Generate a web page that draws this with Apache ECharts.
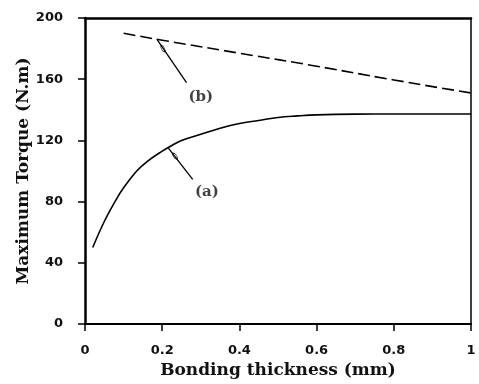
<!DOCTYPE html>
<html><head><meta charset="utf-8">
<script src="https://cdn.jsdelivr.net/npm/echarts@6/dist/echarts.min.js"></script>
<style>html,body{margin:0;padding:0;background:#fff}#c{width:479px;height:384px}</style>
</head><body><div id="c"></div>
<script>
// Data
const xAxisTitle = 'Bonding thickness (mm)';
const yAxisTitle = 'Maximum Torque (N.m)';
const curveAx = [0.02, 0.05, 0.08, 0.10, 0.134, 0.16, 0.20, 0.22, 0.25, 0.30, 0.35, 0.40, 0.45, 0.50, 0.55, 0.60, 0.70, 0.80, 0.90, 1.00];
const curveAy = [50, 67, 81, 89, 100, 106, 113, 116, 120, 124, 128, 131, 133, 135, 136, 136.7, 137.2, 137.3, 137.3, 137.3];
const curveBx = [0.10, 0.20, 0.40, 0.60, 0.80, 1.00];
const curveBy = [190, 185.5, 177, 168.5, 159.5, 151];
const labelA = ['(a)', 0.316, 86];
const labelB = ['(b)', 0.30, 148];
const leaderA = [[0.279, 94.5], [0.216, 115]];
const leaderB = [[0.263, 157.7], [0.186, 186.2]];
const leaderMarks = [[0.233, 109.8, 38], [0.202, 180, 28]];

const zip = (xs, ys) => xs.map((x, i) => [x, ys[i]]);
const lab = "'DejaVu Serif', serif";
const chart = echarts.init(document.getElementById('c'), null, {renderer: 'canvas'});
chart.setOption({
  backgroundColor: '#fff',
  animation: false,
  grid: {left: 85, right: 8, top: 18, bottom: 57},
  xAxis: [{
    type: 'value', min: 0, max: 1, interval: 0.2,
    name: xAxisTitle, nameLocation: 'middle', nameGap: 38, nameMoveOverlap: false,
    nameTextStyle: {fontFamily: lab, fontWeight: 'bold', fontSize: 17, color: '#111'},
    axisLine: {show: true, onZero: false, lineStyle: {color: '#000', width: 2}},
    axisTick: {show: true, inside: false, length: 7, lineStyle: {color: '#000', width: 1.5}},
    axisLabel: {margin: 20, fontFamily: 'DejaVu Sans', fontWeight: 'bold', fontSize: 13, color: '#111'},
    splitLine: {show: false}
  }, {
    type: 'value', position: 'top', min: 0, max: 1,
    axisLine: {show: true, onZero: false, lineStyle: {color: '#000', width: 2.5}},
    axisTick: {show: false}, axisLabel: {show: false}, splitLine: {show: false}
  }],
  yAxis: [{
    type: 'value', min: 0, max: 200, interval: 40,
    name: yAxisTitle, nameLocation: 'middle', nameGap: 53, nameRotate: 90, nameMoveOverlap: false,
    nameTextStyle: {fontFamily: lab, fontWeight: 'bold', fontSize: 17, color: '#111'},
    axisLine: {show: true, onZero: false, lineStyle: {color: '#000', width: 2.5}},
    axisTick: {show: true, inside: false, length: 7, lineStyle: {color: '#000', width: 1.5}},
    axisLabel: {margin: 22, fontFamily: 'DejaVu Sans', fontWeight: 'bold', fontSize: 13, color: '#111'},
    splitLine: {show: false}
  }, {
    type: 'value', position: 'right', min: 0, max: 200, interval: 40,
    axisLine: {show: true, onZero: false, lineStyle: {color: '#000', width: 1.5}},
    axisTick: {show: false}, axisLabel: {show: false}, splitLine: {show: false}
  }],
  series: [
    {type: 'line', data: zip(curveAx, curveAy), smooth: 0.4, showSymbol: false,
     lineStyle: {color: '#000', width: 1.6}},
    {type: 'line', data: zip(curveBx, curveBy), smooth: true, showSymbol: false,
     lineStyle: {color: '#000', width: 1.6, type: [12, 5]}},
    {type: 'line', data: leaderA, showSymbol: false, lineStyle: {color: '#000', width: 1.3}},
    {type: 'line', data: leaderB, showSymbol: false, lineStyle: {color: '#000', width: 1.3}},
    {type: 'scatter', data: leaderMarks.map(d => ({value: [d[0], d[1]], symbolRotate: d[2]})),
     symbol: 'circle', symbolSize: [3, 7],
     itemStyle: {color: '#fff', borderColor: '#000', borderWidth: 1}},
    {type: 'scatter', symbolSize: 0,
     data: [labelA, labelB].map(d => ({value: [d[1], d[2]], name: d[0]})),
     label: {show: true, position: 'inside', formatter: p => p.name,
             fontFamily: lab, fontWeight: 'bold', fontSize: 15, color: '#111'}}
  ]
});
</script></body></html>
